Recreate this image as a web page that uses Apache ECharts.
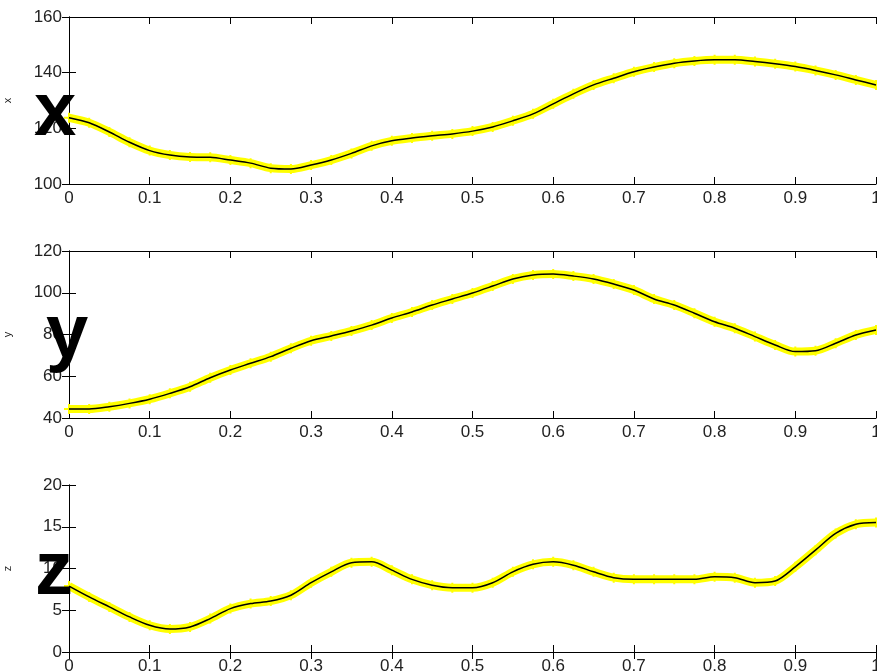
<!DOCTYPE html>
<html>
<head>
<meta charset="utf-8">
<script src="https://cdn.jsdelivr.net/npm/echarts@6/dist/echarts.min.js"></script>
<style>
  html, body { margin: 0; padding: 0; background: #fff; }
  #chart { width: 877px; height: 671px; }
</style>
</head>
<body>
<div id="chart"></div>
<script>
// Sample positions along the normalised path
const tValues = [0, 0.025, 0.05, 0.075, 0.1, 0.125, 0.15, 0.175, 0.2, 0.225, 0.25,
  0.275, 0.3, 0.325, 0.35, 0.375, 0.4, 0.425, 0.45, 0.475, 0.5,
  0.525, 0.55, 0.575, 0.6, 0.625, 0.65, 0.675, 0.7, 0.725, 0.75,
  0.775, 0.8, 0.825, 0.85, 0.875, 0.9, 0.925, 0.95, 0.975, 1];

// Coordinate traces
const xValues = [123.8, 122, 118.7, 115, 112, 110.4, 109.7, 109.6, 108.6, 107.5, 105.7,
  105.4, 106.8, 108.6, 111, 113.7, 115.5, 116.5, 117.3, 118, 119,
  120.5, 122.7, 125.2, 128.8, 132.4, 135.6, 138, 140.3, 142, 143.4,
  144.2, 144.6, 144.6, 144, 143.2, 142.2, 140.8, 139.2, 137.4, 135.6];
const yValues = [44.3, 44.3, 45.4, 47, 49, 51.8, 55, 59.3, 63, 66.2, 69.4,
  73.4, 77, 79.3, 81.7, 84.5, 87.9, 90.8, 94.1, 97, 99.9,
  103.2, 106.6, 108.5, 109, 108, 106.6, 104.2, 101.3, 97, 94.1,
  90.2, 86.1, 83, 79, 75, 71.8, 72.2, 75.8, 79.8, 82.2];
const zValues = [7.9, 6.6, 5.4, 4.2, 3.2, 2.75, 3.0, 4.0, 5.2, 5.8, 6.1,
  6.8, 8.3, 9.6, 10.7, 10.8, 9.8, 8.7, 8.0, 7.7, 7.7,
  8.3, 9.6, 10.5, 10.8, 10.4, 9.6, 8.9, 8.7, 8.7, 8.7,
  8.7, 9.0, 8.9, 8.3, 8.5, 10.2, 12.2, 14.2, 15.3, 15.5];

// Axis ranges and tick steps for each panel
const panelNames = ['x', 'y', 'z'];
const panelRanges = [[100, 160, 20], [40, 120, 20], [0, 20, 5]];
const xTick = 0.1;

const panels = [xValues, yValues, zValues];
const gridTops = [17, 251, 485];
const gridHeight = 167;

const font = 'Liberation Sans, Arial, sans-serif';
const plusPath = 'path://M4,0H6V4H10V6H6V10H4V6H0V4H4Z';

const grids = [], xAxes = [], yAxes = [], series = [];
panels.forEach((vals, i) => {
  grids.push({ left: 69, right: 1, top: gridTops[i], height: gridHeight,
    containLabel: false, outerBoundsMode: 'none' });
  const [mn, mx, step] = panelRanges[i];
  const tickCommon = { show: true, inside: true, length: 7, lineStyle: { color: '#000', width: 1 } };
  // bottom and top x axes (box)
  xAxes.push({
    type: 'value', gridIndex: i, min: 0, max: 1, interval: xTick, position: 'bottom',
    axisLine: { show: true, lineStyle: { color: '#000', width: 1 } },
    axisTick: tickCommon,
    splitLine: { show: false },
    axisLabel: { color: '#222', fontSize: 17, fontFamily: font, margin: 6,
      formatter: v => String(+v.toFixed(1)) }
  });
  xAxes.push({
    type: 'value', gridIndex: i, min: 0, max: 1, interval: xTick, position: 'top',
    axisLine: { show: true, lineStyle: { color: '#000', width: 1 } },
    axisTick: tickCommon, splitLine: { show: false }, axisLabel: { show: false }
  });
  // left and right y axes (box)
  yAxes.push({
    type: 'value', gridIndex: i, min: mn, max: mx, interval: step, position: 'left',
    name: panelNames[i], nameLocation: 'middle', nameGap: 56, nameRotate: 90,
    nameTextStyle: { color: '#222', fontSize: 11, fontFamily: font },
    axisLine: { show: true, lineStyle: { color: '#000', width: 1 } },
    axisTick: tickCommon, splitLine: { show: false },
    axisLabel: { color: '#222', fontSize: 17, fontFamily: font, margin: 7 }
  });
  yAxes.push({
    type: 'value', gridIndex: i, min: mn, max: mx, interval: step, position: 'right',
    axisLine: { show: true, lineStyle: { color: '#000', width: 1 } },
    axisTick: tickCommon, splitLine: { show: false }, axisLabel: { show: false }
  });
  const pts = tValues.map((t, k) => [t, vals[k]]);
  // yellow sample markers
  series.push({
    type: 'line', xAxisIndex: 2 * i, yAxisIndex: 2 * i, data: pts,
    smooth: 0.3, symbol: plusPath, symbolSize: 10, showSymbol: true,
    itemStyle: { color: '#ffff00' },
    lineStyle: { color: '#ffff00', width: 8 },
    silent: true, animation: false, z: 2
  });
  // black fitted trace
  series.push({
    type: 'line', xAxisIndex: 2 * i, yAxisIndex: 2 * i, data: pts,
    smooth: 0.3, symbol: 'none',
    lineStyle: { color: '#000', width: 1.5 },
    silent: true, animation: false, z: 3
  });
});

// large panel letters
const letterStyle = { fill: '#000', font: 'bold 76px ' + font };
const letters = [
  { text: 'x', x: 34, y: 76 },
  { text: 'y', x: 46, y: 298 },
  { text: 'z', x: 35, y: 535 }
];

const chart = echarts.init(document.getElementById('chart'), null, { renderer: 'canvas' });
chart.setOption({
  animation: false,
  backgroundColor: '#fff',
  grid: grids,
  xAxis: xAxes,
  yAxis: yAxes,
  series: series,
  graphic: letters.map(l => ({
    type: 'text', x: l.x, y: l.y, z: 100,
    style: Object.assign({ text: l.text }, letterStyle)
  }))
});
</script>
</body>
</html>
